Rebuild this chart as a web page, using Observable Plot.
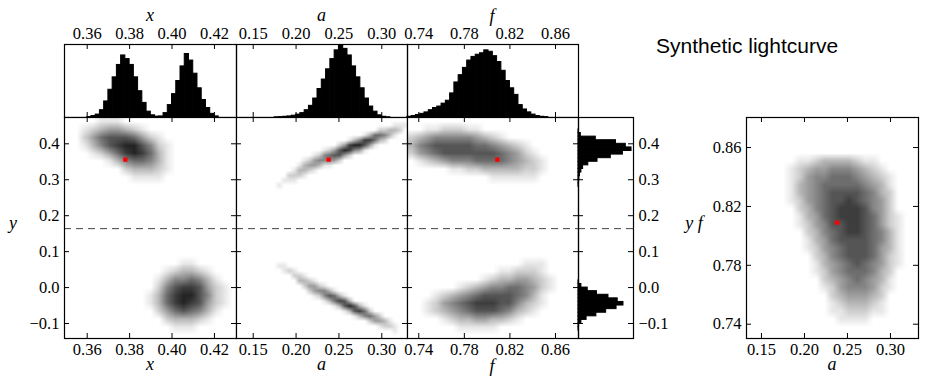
<!DOCTYPE html>
<html>
<head>
<meta charset="utf-8">
<script src="https://cdn.jsdelivr.net/npm/d3@7"></script>
<script src="https://cdn.jsdelivr.net/npm/@observablehq/plot@0.6"></script>
<style>
html,body{margin:0;padding:0;background:#fff;}
#chart{position:relative;width:926px;height:386px;overflow:hidden;background:#fff;}
#chart svg{position:absolute;overflow:visible;}
</style>
</head>
<body>
<div id="chart"></div>
<script>
// ---------- tick values ----------
const xTicks = [0.36, 0.38, 0.40, 0.42];
const aTicks = [0.15, 0.20, 0.25, 0.30];
const fTicks = [0.74, 0.78, 0.82, 0.86];
const yTicks = [-0.1, 0.0, 0.1, 0.2, 0.3, 0.4];

// ---------- axis ranges ----------
const xDomain = [0.3493, 0.4304];
const aDomain = [0.1305, 0.3300];
const fDomain = [0.7301, 0.8802];
const yDomain = [-0.1417, 0.4732];
const bigADomain = [0.1326, 0.3326];
const bigFDomain = [0.7303, 0.8804];

// ---------- dividing line and best-fit point ----------
const yDivide = 0.164;
const best = {x: 0.378, a: 0.238, f: 0.809, y: 0.356};

// ---------- marginal histograms (relative heights) ----------
const xHistStart = 0.35, xHistStep = 0.002;
const xHistHeights = [0,0,0,0,0,0.005,0.02,0.04,0.10,0.22,0.38,0.55,0.72,0.85,0.80,0.72,0.55,0.36,0.20,0.08,0.03,0.012,0.015,0.06,0.17,0.32,0.50,0.70,0.87,0.78,0.60,0.40,0.24,0.13,0.05,0.015,0,0,0,0];

const aHistStart = 0.13, aHistStep = 0.005;
const aHistHeights = [0,0,0,0,0,0,0,0,0,0.003,0.005,0.01,0.015,0.025,0.04,0.06,0.10,0.16,0.26,0.39,0.52,0.66,0.80,0.92,0.98,0.94,0.85,0.70,0.55,0.40,0.26,0.15,0.08,0.03,0.01,0.003,0,0,0,0];

const fHistStart = 0.73, fHistStep = 0.00375;
const fHistHeights = [0.01,0.02,0.035,0.05,0.07,0.10,0.13,0.15,0.19,0.23,0.33,0.48,0.58,0.68,0.78,0.83,0.86,0.88,0.92,0.90,0.84,0.76,0.64,0.50,0.40,0.31,0.17,0.11,0.07,0.04,0.02,0.01,0.005,0,0,0,0,0,0,0];

const yHistStart = -0.14, yHistStep = 0.01;
const yHistHeights = [0,0,0.003,0.01,0.05,0.14,0.31,0.48,0.66,0.78,0.68,0.52,0.32,0.16,0.05,0.01,
  0,0,0,0,0,0,0,0,0,0, 0,0,0,0,0,0,0,0,0,0, 0,0,0,0,0,0,
  0.005,0.01,0.015,0.025,0.05,0.08,0.17,0.33,0.56,0.77,0.92,0.82,0.65,0.30,0.04,0.005,0,0,0];

// ---------- sample-density grids: [row, firstColumn, digits 0-9] ----------
const gridYX = {cols: 21, rows: 28, cells: [
  [0,4,"111"],[1,2,"12344321"],[2,2,"2467776421"],[3,2,"13578997521"],[4,3,"1246898631"],
  [5,5,"13566531"],[6,7,"233321"],[7,8,"1111"],
  [18,14,"11"],[19,12,"123321"],[20,11,"13556531"],[21,11,"257887421"],[22,10,"1368997521"],
  [23,10,"1368987421"],[24,11,"24676531"],[25,12,"233321"],[26,13,"111"]
]};
const gridYA = {cols: 34, rows: 44, cells: [
  [1,31,"111"],[2,28,"22332"],[3,25,"1366531"],[4,22,"13588632"],[5,20,"24899741"],
  [6,17,"124798541"],[7,15,"12567742"],[8,13,"12455542"],[9,12,"1344311"],[10,11,"13321"],
  [11,10,"2221"],[12,9,"111"],[13,8,"1"],
  [29,8,"11"],[30,9,"121"],[31,11,"221"],[32,12,"3321"],[33,13,"24421"],[34,14,"245531"],
  [35,15,"1257631"],[36,17,"136873"],[37,19,"1379731"],[38,21,"137862"],[39,23,"135642"],
  [40,26,"24431"],[41,28,"1221"],[42,31,"1"]
]};
const gridYF = {cols: 21, rows: 28, cells: [
  [1,2,"1122211"],[2,0,"234555554321"],[3,0,"356777776654321"],[4,0,"2456777777765421"],
  [5,1,"1234555666654321"],[6,5,"112233333221"],[7,10,"111111"],
  [18,14,"111"],[19,11,"112221"],[20,9,"123344321"],[21,6,"123455665421"],
  [22,3,"12345677776531"],[23,2,"124567888775321"],[24,2,"12345677765321"],
  [25,4,"1233443321"],[26,6,"11111"]
]};
const gridFA = {cols: 21, rows: 28, cells: [
  [5,6,"1123333211"],[6,5,"123445554321"],[7,5,"1245566654321"],[8,5,"1345666665431"],
  [9,5,"1345677776532"],[10,5,"1245677876542"],[11,6,"235678887542"],[12,6,"1346788876421"],
  [13,6,"1245778876421"],[14,7,"235678876531"],[15,7,"134677776531"],[16,7,"124567776431"],
  [17,8,"23567776421"],[18,8,"13456765421"],[19,8,"1245666532"],[20,9,"234565431"],
  [21,9,"124555421"],[22,10,"2344432"],[23,10,"1233321"],[24,10,"1122211"],[25,11,"1111"]
]};

// ---------- helpers ----------
const chart = document.getElementById("chart");
const SERIF = "Liberation Serif, Times New Roman, serif";
const FS = 16.5;
const TL = 5;
const fmt2 = d => d.toFixed(2);
const fmtY = d => (d < 0 ? "\u2212" : "") + Math.abs(d).toFixed(1);
const STYLE = {overflow: "visible", background: "transparent"};

function expand(g) {
  const v = new Array(g.cols * g.rows).fill(0);
  for (const [r, c, s] of g.cells) for (let k = 0; k < s.length; k++) v[r * g.cols + c + k] = +s[k];
  return v;
}
function bins(start, step, heights) {
  return heights.map((h, i) => ({lo: start + i * step, hi: start + (i + 1) * step, h})).filter(d => d.h > 0);
}
function ticks(w, h, xT, yT) {
  const m = [];
  if (xT) m.push(
    Plot.tickX(xT, {x: d => d, insetTop: h - TL, stroke: "black"}),
    Plot.tickX(xT, {x: d => d, insetBottom: h - TL, stroke: "black"}));
  if (yT) m.push(
    Plot.tickY(yT, {y: d => d, insetRight: w - TL, stroke: "black"}),
    Plot.tickY(yT, {y: d => d, insetLeft: w - TL, stroke: "black"}));
  return m;
}
function place(svg, left, top) {
  svg.style.left = left + "px";
  svg.style.top = top + "px";
  chart.appendChild(svg);
}
const gray = {type: "linear", domain: [0, 10.5], range: ["#ffffff", "#000000"]};

function scatter({left, w, xd, yd, grid, xT, yT, bx, by, yFmt, leftLabels, divide}) {
  const top = 117, h = 221;
  const marks = [
    Plot.raster(expand(grid), {width: grid.cols, height: grid.rows, x1: xd[0], x2: xd[1], y1: yd[1], y2: yd[0], fill: d => d, imageRendering: "auto"})
  ];
  if (divide) marks.push(Plot.ruleY([yDivide], {stroke: "#444", strokeWidth: 1, strokeDasharray: "7,5"}));
  marks.push(Plot.dot([best], {x: bx, y: by, fill: "red", r: 2.4, symbol: "square"}));
  marks.push(...ticks(w, h, xT, yT));
  marks.push(Plot.frame({stroke: "black", strokeWidth: 1.2}));
  marks.push(Plot.text(xT, {x: d => d, frameAnchor: "bottom", lineAnchor: "middle", dy: 11, text: fmt2, fontFamily: SERIF, fontSize: FS}));
  if (leftLabels) marks.push(Plot.text(yT, {y: d => d, frameAnchor: "left", lineAnchor: "middle", dx: -5, textAnchor: "end", text: yFmt, fontFamily: SERIF, fontSize: FS}));
  place(Plot.plot({width: w, height: h, margin: 0, style: STYLE,
    x: {domain: xd, axis: null}, y: {domain: yd, axis: null}, color: gray, marks}), left, top);
}

function histTop({left, w, xd, xT, data}) {
  const top = 44, h = 73;
  place(Plot.plot({width: w, height: h, margin: 0, style: STYLE,
    x: {domain: xd, axis: null}, y: {domain: [0, 1], axis: null},
    marks: [
      Plot.rectY(data, {x1: "lo", x2: "hi", y: "h", fill: "black", stroke: "black", strokeWidth: 1}),
      ...ticks(w, h, xT, null),
      Plot.frame({stroke: "black", strokeWidth: 1.2}),
      Plot.text(xT, {x: d => d, frameAnchor: "top", lineAnchor: "middle", dy: -10.5, text: fmt2, fontFamily: SERIF, fontSize: FS})
    ]}), left, top);
}

// ---------- top histograms ----------
histTop({left: 64, w: 172, xd: xDomain, xT: xTicks, data: bins(xHistStart, xHistStep, xHistHeights)});
histTop({left: 236, w: 171, xd: aDomain, xT: aTicks, data: bins(aHistStart, aHistStep, aHistHeights)});
histTop({left: 407, w: 171, xd: fDomain, xT: fTicks, data: bins(fHistStart, fHistStep, fHistHeights)});

// ---------- scatter row ----------
scatter({left: 64, w: 172, xd: xDomain, yd: yDomain, grid: gridYX, xT: xTicks, yT: yTicks, bx: "x", by: "y", yFmt: fmtY, leftLabels: true, divide: true});
scatter({left: 236, w: 171, xd: aDomain, yd: yDomain, grid: gridYA, xT: aTicks, yT: yTicks, bx: "a", by: "y", yFmt: fmtY, leftLabels: false, divide: true});
scatter({left: 407, w: 171, xd: fDomain, yd: yDomain, grid: gridYF, xT: fTicks, yT: yTicks, bx: "f", by: "y", yFmt: fmtY, leftLabels: false, divide: true});

// ---------- y histogram (horizontal) ----------
place(Plot.plot({width: 55, height: 221, margin: 0, style: STYLE,
  x: {domain: [0, 0.954], axis: null}, y: {domain: yDomain, axis: null},
  marks: [
    Plot.rectX(bins(yHistStart, yHistStep, yHistHeights), {y1: "lo", y2: "hi", x: "h", fill: "black", stroke: "black", strokeWidth: 1}),
    Plot.ruleY([yDivide], {stroke: "#444", strokeWidth: 1, strokeDasharray: "7,5"}),
    ...ticks(55, 221, null, yTicks),
    Plot.frame({stroke: "black", strokeWidth: 1.2}),
    Plot.text(yTicks, {y: d => d, frameAnchor: "right", lineAnchor: "middle", dx: 5, textAnchor: "start", text: fmtY, fontFamily: SERIF, fontSize: FS})
  ]}), 578, 117);

// ---------- f vs a panel ----------
scatter({left: 746, w: 172, xd: bigADomain, yd: bigFDomain, grid: gridFA, xT: aTicks, yT: fTicks, bx: "a", by: "f", yFmt: fmt2, leftLabels: true, divide: false});

// ---------- titles and axis names ----------
const ov = d3.create("svg").attr("width", 926).attr("height", 386)
  .style("left", "0px").style("top", "0px").style("pointer-events", "none");
const names = [
  ["x", 150, 21], ["a", 321.5, 21], ["f", 492, 22],
  ["x", 150, 370], ["a", 321.5, 370], ["f", 492, 372], ["a", 832, 370],
  ["y", 13, 229], ["y f", 694, 229]
];
ov.selectAll("text.n").data(names).join("text").attr("class", "n")
  .attr("x", d => d[1]).attr("y", d => d[2]).attr("text-anchor", "middle")
  .attr("font-family", SERIF).attr("font-style", "italic").attr("font-size", 18)
  .text(d => d[0]);
ov.append("text").attr("x", 656).attr("y", 53)
  .attr("font-family", "Liberation Sans, Arial, sans-serif").attr("font-size", 21)
  .text("Synthetic lightcurve");
chart.appendChild(ov.node());
</script>
</body>
</html>
